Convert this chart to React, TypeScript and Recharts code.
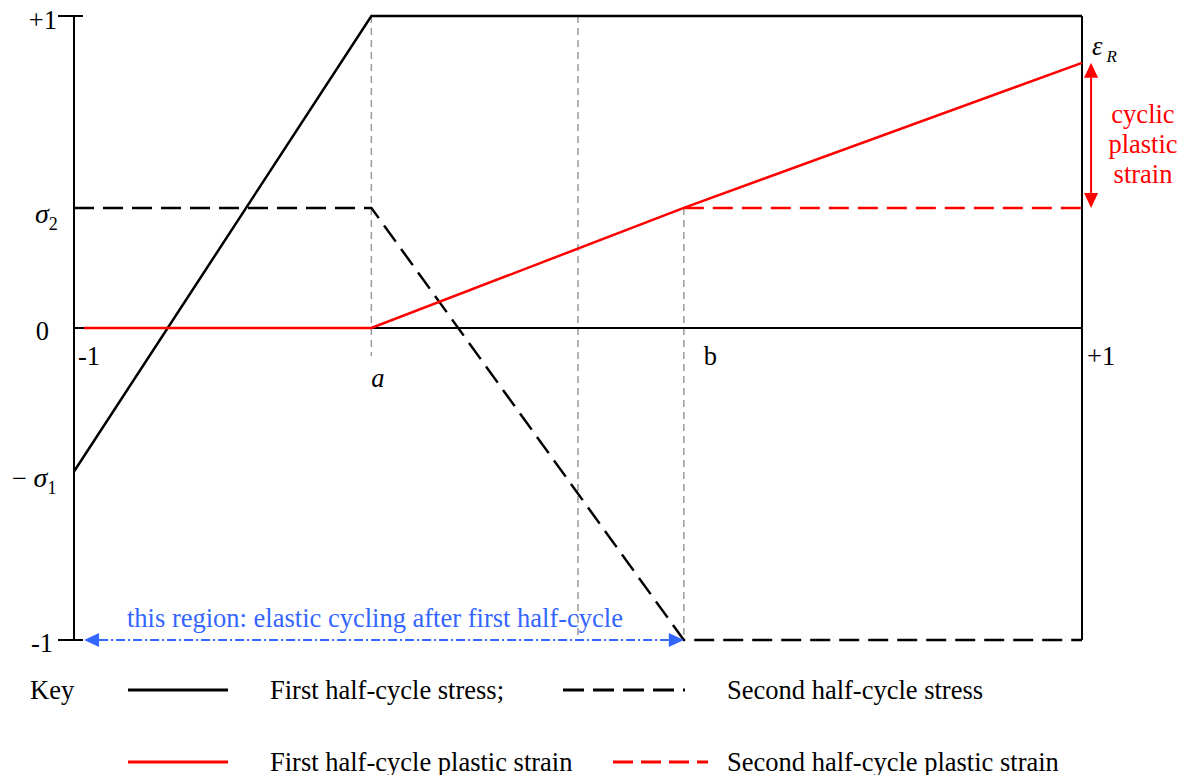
import {
  ComposedChart,
  Line,
  XAxis,
  YAxis,
  ReferenceLine,
  ReferenceDot,
  Legend,
} from 'recharts';

const SERIF = "'Liberation Serif', 'Times New Roman', serif";
const FONT = 26.5;
const RED = '#ff0000';
const BLUE = '#3366ff';
const GREY = '#9a9a9a';

// normalised stress / strain levels
const A = -0.41;
const B = 0.21;
const SIGMA1 = 0.46;
const SIGMA2 = 0.385;
const EPS_R = 0.85;

const stress1X = [-1, A, 1];
const stress1Y = [-SIGMA1, 1, 1];
const stress2X = [-1, A, B, 1];
const stress2Y = [SIGMA2, SIGMA2, -1, -1];
const strain1X = [-0.98, A, B, 1];
const strain1Y = [0, 0, SIGMA2, EPS_R];
const strain2X = [B, 1];
const strain2Y = [SIGMA2, SIGMA2];

const seriesNames = [
  'First half-cycle stress;',
  'Second half-cycle stress',
  'First half-cycle plastic strain',
  'Second half-cycle plastic strain',
];

const yTicks = [1, SIGMA2, 0, -SIGMA1, -1];
const yTickLabels = ['+1', 'σ2', '0', '− σ1', '-1'];

// grey guides at a, 0 and b
const guideX = [A, 0, B];
const guideTop = [1, 1, SIGMA2];
const guideBottom = [-0.09, -1, -1];

const regionX = [-0.98, B];
const cyclicArrowX = 1.018;

const toPoints = (xs: number[], ys: number[]) => xs.map((x, i) => ({ x, y: ys[i] }));

const yTickPlacement = [
  { anchor: 'end', dx: -17, dy: 13 },
  { anchor: 'start', dx: -39, dy: 15 },
  { anchor: 'end', dx: -25, dy: 12 },
  { anchor: 'start', dx: -62, dy: 15 },
  { anchor: 'end', dx: -21, dy: 12 },
];

function YTick(props: any) {
  const { x, y, payload } = props;
  const i = yTicks.indexOf(payload.value);
  if (i < 0) return null;
  const label = yTickLabels[i];
  const p = yTickPlacement[i];
  const edge = Math.abs(payload.value) === 1;
  let content: any = label;
  if (label.includes('σ')) {
    const sub = label.slice(-1);
    const pre = label.startsWith('−') ? '− ' : '';
    content = (
      <>
        {pre && <tspan>{pre}</tspan>}
        <tspan fontStyle="italic" fontSize={28}>σ</tspan>
        <tspan fontSize={18} dy={7}>{sub}</tspan>
      </>
    );
  }
  return (
    <g>
      {edge && <line x1={x - 16} x2={x + 9} y1={y} y2={y} stroke="#000" strokeWidth={2} />}
      <text x={x + p.dx} y={y + p.dy} textAnchor={p.anchor as any} fontSize={FONT} fontFamily={SERIF} fill="#000">
        {content}
      </text>
    </g>
  );
}

function Note(props: any) {
  const { viewBox, lines, dx = 0, dy = 0, lineHeight = 30, fill = '#000', anchor = 'start', italic, sub } = props;
  const { x, y } = viewBox;
  return (
    <text x={x + dx} y={y + dy} textAnchor={anchor} fontSize={FONT} fontFamily={SERIF} fill={fill}>
      {lines.map((t: string, i: number) => (
        <tspan key={i} x={x + dx} dy={i === 0 ? 0 : lineHeight} fontStyle={italic ? 'italic' : 'normal'}>
          {t}
        </tspan>
      ))}
      {sub && (
        <tspan fontStyle="italic" fontSize={17} dx={4} dy={7}>
          {sub}
        </tspan>
      )}
    </text>
  );
}

function DoubleArrow(props: any) {
  const { x1, y1, x2, y2, stroke, strokeWidth, strokeDasharray } = props;
  const head = 15;
  const half = 7;
  const len = Math.hypot(x2 - x1, y2 - y1) || 1;
  const ux = (x2 - x1) / len;
  const uy = (y2 - y1) / len;
  const px = -uy;
  const py = ux;
  const tri = (tx: number, ty: number, s: number) => {
    const bx = tx + s * ux * head;
    const by = ty + s * uy * head;
    return `M${tx},${ty}L${bx + px * half},${by + py * half}L${bx - px * half},${by - py * half}Z`;
  };
  return (
    <g>
      <line
        x1={x1 + ux * head}
        y1={y1 + uy * head}
        x2={x2 - ux * head}
        y2={y2 - uy * head}
        stroke={stroke}
        strokeWidth={strokeWidth}
        strokeDasharray={strokeDasharray}
      />
      <path d={tri(x1, y1, 1)} fill={stroke} />
      <path d={tri(x2, y2, -1)} fill={stroke} />
    </g>
  );
}

const keyEntries = [
  { color: '#000', dash: undefined, sx: 128, sw: 100, tx: 270, y: 17 },
  { color: '#000', dash: '21 9', sx: 563, sw: 122, tx: 727, y: 17 },
  { color: RED, dash: undefined, sx: 128, sw: 100, tx: 270, y: 89 },
  { color: RED, dash: '20 8', sx: 613, sw: 95, tx: 727, y: 89 },
];

function KeyLegend() {
  return (
    <svg width={1193} height={110} style={{ display: 'block' }}>
      <text x={30} y={26} fontSize={FONT} fontFamily={SERIF} fill="#000">Key</text>
      {keyEntries.map((e, i) => (
        <g key={i}>
          <line x1={e.sx} x2={e.sx + e.sw} y1={e.y} y2={e.y} stroke={e.color} strokeWidth={3} strokeDasharray={e.dash} />
          <text x={e.tx} y={e.y + 9} fontSize={FONT} fontFamily={SERIF} fill="#000">{seriesNames[i]}</text>
        </g>
      ))}
    </svg>
  );
}

export default function App() {
  return (
    <div style={{ margin: -8 }}>
      <ComposedChart width={1193} height={783} margin={{ top: 16, right: 111, bottom: 143, left: 0 }}>
        <XAxis type="number" dataKey="x" domain={[-1, 1]} hide />
        <YAxis
          type="number"
          dataKey="y"
          domain={[-1, 1]}
          ticks={yTicks}
          interval={0}
          width={74}
          tickLine={false}
          tickSize={0}
          tickMargin={0}
          axisLine={{ stroke: '#000', strokeWidth: 2 }}
          tick={<YTick />}
        />

        {guideX.map((gx, i) => (
          <ReferenceLine
            key={`g${i}`}
            segment={[{ x: gx, y: guideTop[i] }, { x: gx, y: guideBottom[i] }]}
            stroke={GREY}
            strokeWidth={1.5}
            strokeDasharray="7 5"
          />
        ))}

        <ReferenceLine y={0} stroke="#000" strokeWidth={2} />
        <ReferenceLine x={1} stroke="#000" strokeWidth={2} />

        <Line data={toPoints(stress1X, stress1Y)} dataKey="y" name={seriesNames[0]} type="linear" stroke="#000" strokeWidth={2.5} dot={false} activeDot={false} isAnimationActive={false} />
        <Line data={toPoints(stress2X, stress2Y)} dataKey="y" name={seriesNames[1]} type="linear" stroke="#000" strokeWidth={2.5} strokeDasharray="20 9" dot={false} activeDot={false} isAnimationActive={false} />
        <Line data={toPoints(strain1X, strain1Y)} dataKey="y" name={seriesNames[2]} type="linear" stroke={RED} strokeWidth={2.5} dot={false} activeDot={false} isAnimationActive={false} />
        <Line data={toPoints(strain2X, strain2Y)} dataKey="y" name={seriesNames[3]} type="linear" stroke={RED} strokeWidth={2.5} strokeDasharray="20 9" dot={false} activeDot={false} isAnimationActive={false} />

        {/* cyclic plastic strain span */}
        <ReferenceLine
          segment={[{ x: cyclicArrowX, y: EPS_R }, { x: cyclicArrowX, y: SIGMA2 }]}
          ifOverflow="visible"
          stroke={RED}
          strokeWidth={2}
          shape={(p: any) => <DoubleArrow {...p} />}
        />
        {/* elastic cycling region */}
        <ReferenceLine
          segment={[{ x: regionX[0], y: -1 }, { x: regionX[1], y: -1 }]}
          stroke={BLUE}
          strokeWidth={2}
          strokeDasharray="9 3 2 3"
          shape={(p: any) => <DoubleArrow {...p} />}
        />

        <ReferenceDot x={-1} y={0} r={0} fill="none" stroke="none" label={<Note lines={['-1']} dx={4} dy={37} />} />
        <ReferenceDot x={A} y={0} r={0} fill="none" stroke="none" label={<Note lines={['a']} dx={0} dy={59} italic />} />
        <ReferenceDot x={B} y={0} r={0} fill="none" stroke="none" label={<Note lines={['b']} dx={20} dy={37} />} />
        <ReferenceDot x={1} y={0} r={0} fill="none" stroke="none" label={<Note lines={['+1']} dx={5} dy={37} />} />
        <ReferenceDot x={1} y={EPS_R} r={0} fill="none" stroke="none" label={<Note lines={['ε']} sub="R" dx={10} dy={-8} italic />} />
        <ReferenceDot
          x={1}
          y={EPS_R}
          r={0}
          fill="none"
          stroke="none"
          label={<Note lines={['cyclic', 'plastic', 'strain']} anchor="middle" dx={61} dy={60} fill={RED} />}
        />
        <ReferenceDot
          x={-1}
          y={-1}
          r={0}
          fill="none"
          stroke="none"
          label={<Note lines={['this region: elastic cycling after first half-cycle']} dx={53} dy={-13} fill={BLUE} />}
        />

        <Legend
          layout="horizontal"
          verticalAlign="middle"
          align="center"
          wrapperStyle={{ left: 0, top: 673, width: 1193 }}
          content={() => <KeyLegend />}
        />
      </ComposedChart>
    </div>
  );
}
